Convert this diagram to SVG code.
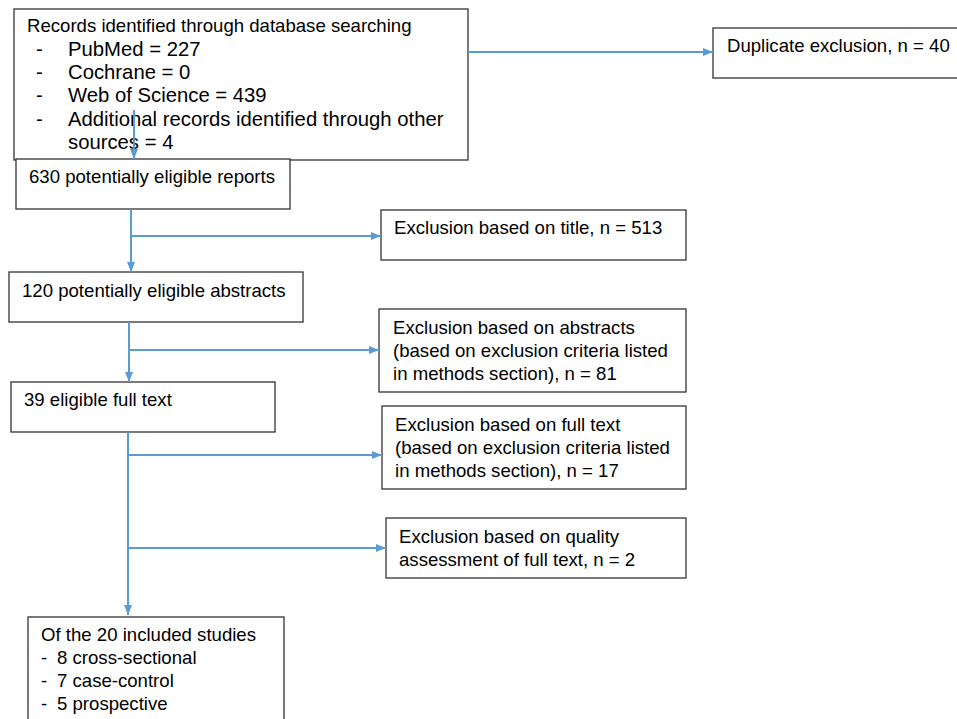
<svg xmlns="http://www.w3.org/2000/svg" width="957" height="719" viewBox="0 0 957 719">
<defs>
<marker id="ah" markerWidth="10" markerHeight="8" refX="10" refY="4" orient="auto" markerUnits="userSpaceOnUse">
<path d="M0,0 L10,4 L0,8 Z" fill="#5b9bd5"/>
</marker>
<style>
.box{fill:#fff;stroke:#333;stroke-width:1.3}
.t{font-family:"Liberation Sans",Arial,sans-serif;font-size:18.6px;fill:#000}
.b{font-family:"Liberation Sans",Arial,sans-serif;font-size:20.3px;fill:#000}
.c{fill:none;stroke:#5b9bd5;stroke-width:2}
</style>
</defs>
<rect width="957" height="719" fill="#fff"/>
<g id="n1">
<rect class="box" x="14" y="9" width="454" height="151"/>
<text class="t" x="27" y="32">Records identified through database searching</text>
<text class="b" x="36" y="56">-</text><text class="b" x="68" y="56">PubMed = 227</text>
<text class="b" x="36" y="79">-</text><text class="b" x="68" y="79">Cochrane = 0</text>
<text class="b" x="36" y="102">-</text><text class="b" x="68" y="102">Web of Science = 439</text>
<text class="b" x="36" y="126">-</text><text class="b" x="68" y="126">Additional records identified through other</text>
<text class="b" x="68" y="149">sources = 4</text>
</g>
<g id="n_dup">
<rect class="box" x="713" y="28" width="250" height="50"/>
<text class="t" x="727" y="52">Duplicate exclusion, n = 40</text>
</g>
<g id="n630">
<rect class="box" x="16" y="159" width="274" height="50"/>
<text class="t" x="29" y="183">630 potentially eligible reports</text>
</g>
<g id="n_title">
<rect class="box" x="381" y="210" width="305" height="50"/>
<text class="t" x="394" y="234">Exclusion based on title, n = 513</text>
</g>
<g id="n120">
<rect class="box" x="9" y="272" width="294" height="50"/>
<text class="t" x="22" y="297">120 potentially eligible abstracts</text>
</g>
<g id="n_abs">
<rect class="box" x="379" y="309" width="307" height="83"/>
<text class="t" x="393" y="334">Exclusion based on abstracts</text>
<text class="t" x="393" y="357">(based on exclusion criteria listed</text>
<text class="t" x="393" y="380">in methods section), n = 81</text>
</g>
<g id="n39">
<rect class="box" x="11" y="382" width="264" height="50"/>
<text class="t" x="24" y="406">39 eligible full text</text>
</g>
<g id="n_full">
<rect class="box" x="382" y="406" width="304" height="83"/>
<text class="t" x="395" y="431">Exclusion based on full text</text>
<text class="t" x="395" y="454">(based on exclusion criteria listed</text>
<text class="t" x="395" y="477">in methods section), n = 17</text>
</g>
<g id="n_qual">
<rect class="box" x="386" y="518" width="300" height="60"/>
<text class="t" x="399" y="543">Exclusion based on quality</text>
<text class="t" x="399" y="566">assessment of full text, n = 2</text>
</g>
<g id="n_final">
<rect class="box" x="28" y="617" width="256" height="110"/>
<text class="t" x="41" y="641">Of the 20 included studies</text>
<text class="t" x="41" y="664">-</text><text class="t" x="57" y="664">8 cross-sectional</text>
<text class="t" x="41" y="687">-</text><text class="t" x="57" y="687">7 case-control</text>
<text class="t" x="41" y="710">-</text><text class="t" x="57" y="710">5 prospective</text>
</g>
<g id="connectors">
<line class="c" x1="468" y1="52" x2="713" y2="52" marker-end="url(#ah)"/>
<line class="c" x1="134" y1="110" x2="134" y2="159" marker-end="url(#ah)"/>
<line class="c" x1="131" y1="209" x2="131" y2="272" marker-end="url(#ah)"/>
<line class="c" x1="131" y1="236" x2="381" y2="236" marker-end="url(#ah)"/>
<line class="c" x1="129" y1="322" x2="129" y2="382" marker-end="url(#ah)"/>
<line class="c" x1="129" y1="350" x2="379" y2="350" marker-end="url(#ah)"/>
<line class="c" x1="128" y1="432" x2="128" y2="615" marker-end="url(#ah)"/>
<line class="c" x1="128" y1="455" x2="382" y2="455" marker-end="url(#ah)"/>
<line class="c" x1="128" y1="548" x2="386" y2="548" marker-end="url(#ah)"/>
</g>
</svg>
